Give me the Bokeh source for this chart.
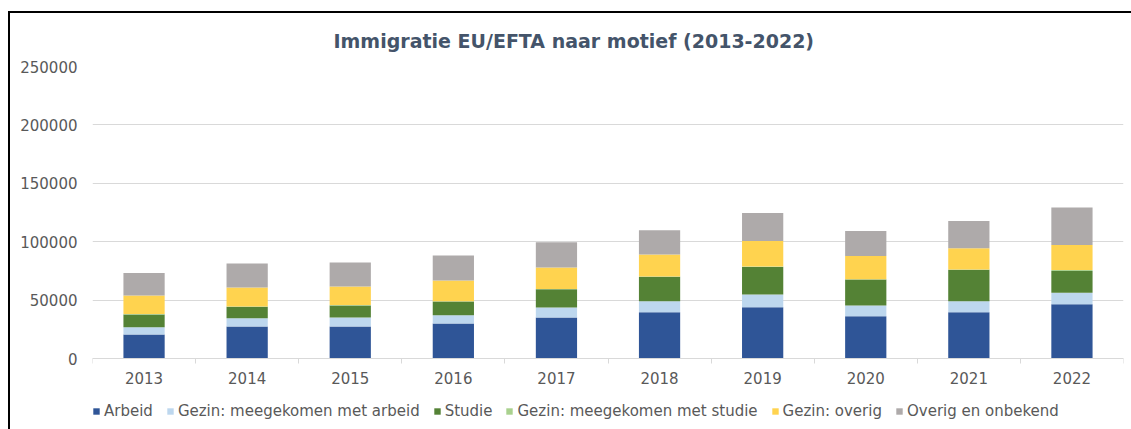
from bokeh.plotting import figure
from bokeh.models import (ColumnDataSource, Range1d, FixedTicker, Legend, LegendItem,
                          NumeralTickFormatter)
from bokeh.embed import file_html
from bokeh.resources import INLINE

years = ["2013", "2014", "2015", "2016", "2017", "2018", "2019", "2020", "2021", "2022"]
arbeid = [20500, 27400, 27400, 30000, 35100, 39600, 43900, 36200, 39600, 46500]
gezin_arbeid = [6300, 7100, 7700, 7100, 8600, 9400, 10900, 9200, 9400, 9700]
studie = [10900, 9700, 10300, 11700, 15600, 20900, 23600, 22200, 26900, 18800]
gezin_studie = [300, 300, 300, 300, 300, 300, 300, 300, 300, 800]
gezin_overig = [15900, 16300, 15900, 17700, 18300, 18800, 22000, 19900, 18200, 21400]
overig = [19400, 20500, 20600, 21400, 21700, 20800, 23900, 21400, 23400, 32100]

series_labels = ["Arbeid", "Gezin: meegekomen met arbeid", "Studie",
                 "Gezin: meegekomen met studie", "Gezin: overig", "Overig en onbekend"]
colors = ["#2F5597", "#BDD7EE", "#548235", "#A9D18E", "#FFD34F", "#AEAAAA"]
y_ticks = [0, 50000, 100000, 150000, 200000, 250000]

keys = ["arbeid", "gezin_arbeid", "studie", "gezin_studie", "gezin_overig", "overig"]
xs = list(range(len(years)))
source = ColumnDataSource(dict(x=xs, arbeid=arbeid, gezin_arbeid=gezin_arbeid, studie=studie,
                               gezin_studie=gezin_studie, gezin_overig=gezin_overig, overig=overig))

FONT = "DejaVu Sans"
TXT = "#595959"

# plotting area: 292 px for the value axis, plus 71 px below zero for axis labels and legend
axis_px = 292
below_px = 71
y_start = -y_ticks[-1] * below_px / axis_px

p = figure(frame_width=1031, frame_height=axis_px + below_px, output_backend="svg",
           toolbar_location=None,
           x_range=Range1d(-0.5, len(years) - 0.5), y_range=Range1d(y_start, y_ticks[-1]),
           min_border_left=82, min_border_right=8, min_border_top=53, min_border_bottom=0)
p.styles = {"border-left": "2px solid black", "border-top": "2px solid black",
            "margin-left": "8px", "margin-top": "11px", "margin-bottom": "-40px"}

p.title.text = "Immigratie EU/EFTA naar motief (2013-2022)"
p.title.align = "left"
p.title.vertical_align = "top"
p.title.text_font = FONT
p.title.text_font_size = "19px"
p.title.text_font_style = "bold"
p.title.text_color = "#44546A"
p.title.offset = 241
p.title.standoff = 26

renderers = p.vbar_stack(keys, x="x", width=0.4, color=colors, line_color=None, source=source)

p.outline_line_color = None
p.background_fill_color = "white"
p.border_fill_color = "white"

# x axis, drawn at value 0
xa = p.xaxis[0]
xa.fixed_location = 0
xa.ticker = FixedTicker(ticks=xs, minor_ticks=[i - 0.5 for i in range(len(years) + 1)])
xa.major_label_overrides = {i: y for i, y in enumerate(years)}
xa.major_tick_line_color = None
xa.major_tick_out = 0
xa.major_tick_in = 0
xa.minor_tick_line_color = "#D9D9D9"
xa.minor_tick_out = 5
xa.minor_tick_in = 0
xa.axis_line_color = "#D9D9D9"
xa.axis_line_width = 1
xa.major_label_text_font = FONT
xa.major_label_text_font_size = "15px"
xa.major_label_text_color = TXT
xa.major_label_standoff = 8
p.xgrid.grid_line_color = None

# y axis
ya = p.yaxis[0]
ya.ticker = FixedTicker(ticks=y_ticks)
ya.formatter = NumeralTickFormatter(format="0")
ya.axis_line_color = None
ya.major_tick_line_color = None
ya.minor_tick_line_color = None
ya.major_tick_out = 0
ya.major_label_text_font = FONT
ya.major_label_text_font_size = "15px"
ya.major_label_text_color = TXT
ya.major_label_standoff = 15
p.ygrid.grid_line_color = "#D9D9D9"
p.ygrid.ticker = FixedTicker(ticks=y_ticks)

legend = Legend(items=[LegendItem(label=l, renderers=[r]) for l, r in zip(series_labels, renderers)],
                orientation="horizontal", location=(0, 9),
                glyph_width=8, glyph_height=8, label_standoff=4, spacing=13,
                padding=0, margin=0, border_line_color=None, background_fill_alpha=0,
                label_text_font=FONT, label_text_font_size="15px", label_text_color=TXT)
p.add_layout(legend, "center")

open("out.html", "w").write(file_html(p, INLINE))
